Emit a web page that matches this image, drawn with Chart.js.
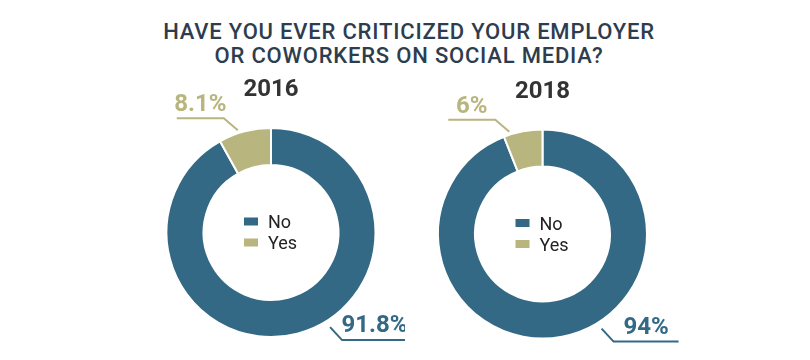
<!DOCTYPE html>
<html>
<head>
<meta charset="utf-8">
<script src="https://cdn.jsdelivr.net/npm/chart.js@4/dist/chart.umd.min.js"></script>
<style>
  html, body { margin: 0; padding: 0; background: #ffffff; }
  #wrap { position: relative; width: 810px; height: 360px; overflow: hidden; background: #fff; }
  #title { position: absolute; left: 4px; top: 20px; width: 810px; text-align: center;
           font-family: Roboto, "Noto Sans", sans-serif; font-size: 22px; line-height: 24px;
           font-weight: 500; letter-spacing: 0.8px; color: #2e3d4e; }
  canvas { position: absolute; top: 0; }
</style>
</head>
<body>
<div id="wrap">
  <div id="title">HAVE YOU EVER CRITICIZED YOUR EMPLOYER<br>OR COWORKERS ON SOCIAL MEDIA?</div>
  <canvas id="c2016" width="405" height="360" style="left:0px"></canvas>
  <canvas id="c2018" width="405" height="360" style="left:405px"></canvas>
</div>
<script>
const categories = ['No', 'Yes'];
const years = ['2016', '2018'];
const values2016 = [91.8, 8.1];
const values2018 = [94, 6];
const colors = ['#336985', '#b9b57f'];

const labelPlugin = {
  id: 'donutDecor',
  afterDraw(chart) {
    const ctx = chart.ctx;
    const meta = chart.getDatasetMeta(0);
    const arcs = meta.data;
    if (!arcs.length) return;
    const cx = arcs[0].x, cy = arcs[0].y, R = arcs[0].outerRadius;
    const ds = chart.data.datasets[0];
    const o = chart.options.plugins.donutDecor;
    ctx.save();
    // year
    ctx.fillStyle = '#333333';
    ctx.font = 'bold 24px Roboto, "Noto Sans", sans-serif';
    ctx.textAlign = 'center';
    ctx.textBaseline = 'alphabetic';
    ctx.fillText(o.year, cx, cy - R - 32);
    // legend in center
    ctx.font = '18px Roboto, "Noto Sans", sans-serif';
    ctx.textAlign = 'left';
    chart.data.labels.forEach((lab, i) => {
      const rowC = cy - 11 + i * 21;
      ctx.fillStyle = ds.backgroundColor[i];
      ctx.fillRect(cx - 27, rowC - 4, 14, 8);
      ctx.fillStyle = '#222222';
      ctx.fillText(lab, cx - 3, rowC + 6.5);
    });
    // value labels with leader lines
    ds.data.forEach((v, i) => {
      const spec = o.anchors[i];
      const a = spec.angle * Math.PI / 180;
      const r = R + spec.gap;
      const x0 = cx + r * Math.cos(a), y0 = cy + r * Math.sin(a);
      const x1 = x0 + spec.dx, y1 = y0 + spec.dy;
      const x2 = x1 + spec.len;
      ctx.strokeStyle = ds.backgroundColor[i];
      ctx.lineWidth = 2;
      ctx.beginPath();
      ctx.moveTo(x0, y0); ctx.lineTo(x1, y1); ctx.lineTo(x2, y1);
      ctx.stroke();
      ctx.fillStyle = ds.backgroundColor[i];
      ctx.font = 'bold 24px Roboto, "Noto Sans", sans-serif';
      ctx.textAlign = 'center';
      ctx.fillText(v + '%', (x1 + x2) / 2, y1 - spec.textGap);
    });
    ctx.restore();
  }
};

function makeChart(id, values, year, padding) {
  return new Chart(document.getElementById(id), {
    type: 'doughnut',
    data: {
      labels: categories,
      datasets: [{
        data: values,
        backgroundColor: colors,
        borderColor: '#ffffff',
        borderWidth: 2,
        hoverOffset: 0
      }]
    },
    options: {
      responsive: false,
      animation: false,
      devicePixelRatio: 1,
      radius: 104.5,
      cutout: '64.5%',
      layout: { padding: padding },
      plugins: {
        legend: { display: false },
        tooltip: { enabled: false },
        title: { display: false },
        donutDecor: {
          year: year,
          anchors: [
            { angle: 58, gap: 7, dx: 12, dy: 13, len: 65, textGap: 8 },
            { angle: -108, gap: 3, dx: -14, dy: -12, len: -47, textGap: 7 }
          ]
        }
      }
    },
    plugins: [labelPlugin]
  });
}

makeChart('c2016', values2016, years[0], { left: 137, right: 0, top: 105, bottom: 0 });
makeChart('c2018', values2018, years[1], { left: 0, right: 130, top: 108, bottom: 0 });
</script>
</body>
</html>
